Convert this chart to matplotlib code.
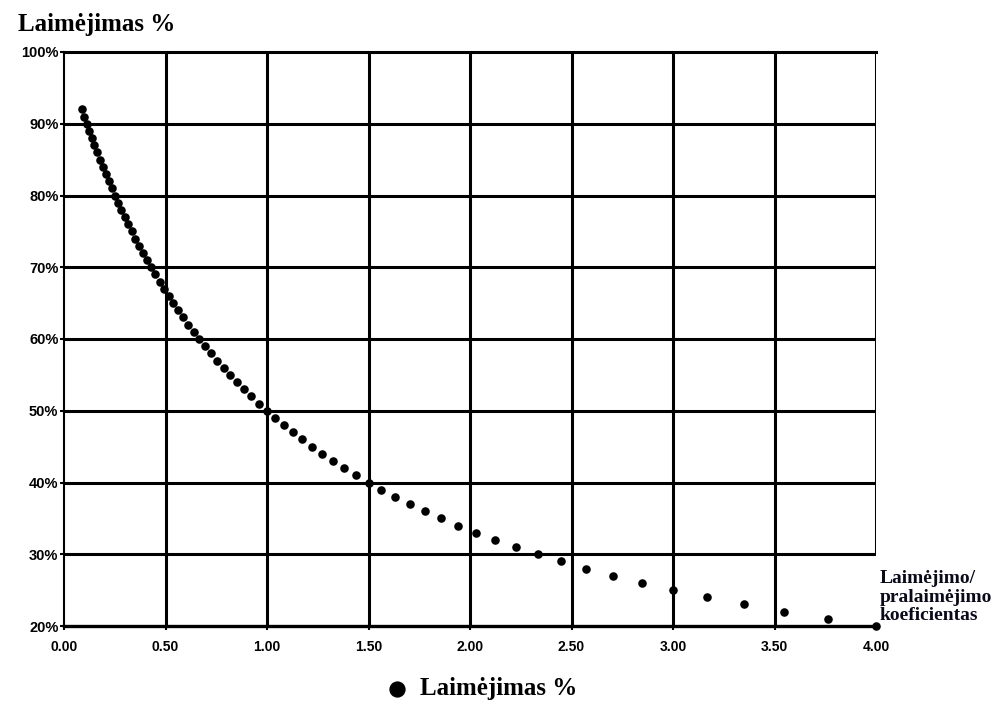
import matplotlib
matplotlib.use("Agg")
import matplotlib.pyplot as plt
from matplotlib.ticker import FuncFormatter

# win percentage and the matching win/loss ratio
win_pct = [92, 91, 90, 89, 88, 87, 86, 85, 84, 83, 82, 81, 80, 79, 78, 77, 76, 75,
           74, 73, 72, 71, 70, 69, 68, 67, 66, 65, 64, 63, 62, 61, 60, 59, 58, 57,
           56, 55, 54, 53, 52, 51, 50, 49, 48, 47, 46, 45, 44, 43, 42, 41, 40, 39,
           38, 37, 36, 35, 34, 33, 32, 31, 30, 29, 28, 27, 26, 25, 24, 23, 22, 21, 20]
ratio = [0.087, 0.099, 0.111, 0.124, 0.136, 0.149, 0.163, 0.176, 0.190, 0.205,
         0.220, 0.235, 0.250, 0.266, 0.282, 0.299, 0.316, 0.333, 0.351, 0.370,
         0.389, 0.408, 0.429, 0.449, 0.471, 0.493, 0.515, 0.538, 0.563, 0.587,
         0.613, 0.639, 0.667, 0.695, 0.724, 0.754, 0.786, 0.818, 0.852, 0.887,
         0.923, 0.961, 1.000, 1.041, 1.083, 1.128, 1.174, 1.222, 1.273, 1.326,
         1.381, 1.439, 1.500, 1.564, 1.632, 1.703, 1.778, 1.857, 1.941, 2.030,
         2.125, 2.226, 2.333, 2.448, 2.571, 2.704, 2.846, 3.000, 3.167, 3.348,
         3.545, 3.762, 4.000]
x_ticks = [0.0, 0.5, 1.0, 1.5, 2.0, 2.5, 3.0, 3.5, 4.0]
y_ticks = [20, 30, 40, 50, 60, 70, 80, 90, 100]

SERIF = ["Liberation Serif", "DejaVu Serif"]
SANS = ["Liberation Sans", "DejaVu Sans"]

fig = plt.figure(figsize=(9.94, 7.07), dpi=100, facecolor="white")
ax = fig.add_axes([64 / 994, 1 - 626 / 707, (876 - 64) / 994, (626 - 52) / 707])

ax.set_xlim(0, 4)
ax.set_ylim(20, 100)
ax.set_xticks(x_ticks)
ax.set_yticks(y_ticks)
ax.xaxis.set_major_formatter(FuncFormatter(lambda v, _: f"{v:.2f}"))
ax.yaxis.set_major_formatter(FuncFormatter(lambda v, _: f"{v:.0f}%"))
for lab in ax.get_xticklabels() + ax.get_yticklabels():
    lab.set_fontfamily(SANS)
    lab.set_fontweight("bold")
ax.tick_params(axis="x", labelsize=10, length=3, width=1.5, pad=7, colors="black")
ax.tick_params(axis="y", labelsize=10.5, length=3, width=1.5, pad=1, colors="black")

# grid: the right edge line stops at the 30% line
for xv in x_ticks[1:-1]:
    ax.axvline(xv, color="black", lw=2.2, zorder=1)
ax.axvline(x_ticks[-1], ymin=(30 - 20) / 80, ymax=1, color="black", lw=2.2, zorder=1)
for yv in y_ticks[1:-1]:
    ax.axhline(yv, color="black", lw=2.2, zorder=1)

ax.spines["right"].set_visible(False)
ax.spines["left"].set_linewidth(1.5)
ax.spines["top"].set_linewidth(2.2)
ax.spines["bottom"].set_linewidth(2.4)

ax.scatter(ratio, win_pct, s=38, color="black", marker="o", linewidths=0,
           zorder=3, clip_on=False, label="Laimėjimas %")

fig.text(18 / 994, 1 - 24 / 707, "Laimėjimas %", family=SERIF, fontweight="bold",
         fontsize=18, va="center", ha="left")
fig.text(880 / 994, 1 - 597 / 707, "Laimėjimo/\npralaimėjimo\nkoeficientas",
         family=SERIF, fontweight="bold", fontsize=14, va="center", ha="left",
         linespacing=1.12, color="#0a0a1a")

leg = fig.legend(loc="center left", bbox_to_anchor=(362 / 994, 1 - 689 / 707),
                 frameon=False, markerscale=1.9, handlelength=1.0, handletextpad=0.4,
                 prop={"family": SERIF, "weight": "bold", "size": 18})

fig.savefig("out.png", dpi=100, facecolor="white")
